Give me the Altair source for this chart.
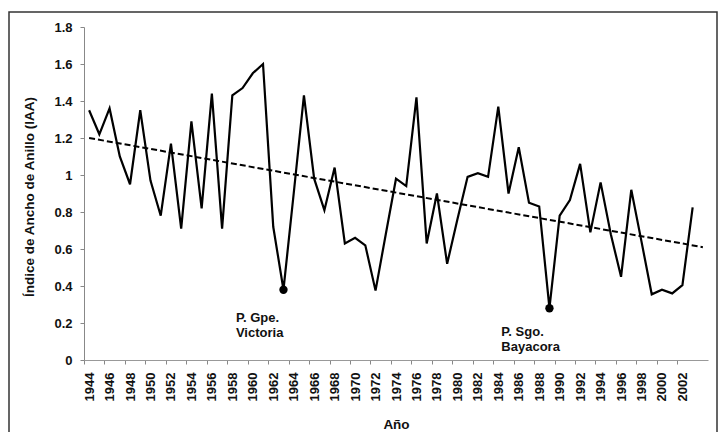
import altair as alt
import pandas as pd

# ---- data ----
years = list(range(1944, 2004))
iaa = [1.35, 1.22, 1.36, 1.10, 0.95, 1.35, 0.97, 0.78, 1.17, 0.71,
       1.29, 0.82, 1.44, 0.71, 1.43, 1.47, 1.55, 1.60, 0.72, 0.38,
       0.90, 1.43, 0.98, 0.81, 1.04, 0.63, 0.66, 0.62, 0.375, 0.68,
       0.98, 0.94, 1.42, 0.63, 0.90, 0.52, 0.76, 0.99, 1.01, 0.99,
       1.37, 0.90, 1.15, 0.85, 0.83, 0.28, 0.78, 0.865, 1.06, 0.69,
       0.96, 0.68, 0.45, 0.92, 0.64, 0.355, 0.38, 0.36, 0.405, 0.825]

trend_years = [1944, 2004]
trend_vals = [1.20, 0.61]

marked_years = [1963, 1989]

note_texts = [["P. Gpe.", "Victoria"], ["P. Sgo.", "Bayacora"]]
note_years = [1958.35, 1984.3]
note_vals = [0.262, 0.182]

x_label_years = list(range(1944, 2003, 2))
y_ticks = [0, 0.2, 0.4, 0.6, 0.8, 1.0, 1.2, 1.4, 1.6, 1.8]

FONT = "Liberation Sans"
# the whole framed figure is the view; the plotting region sits inside it
VW, VH = 708, 420
PL, PR = 75, 699        # plot left / right inside the view
PT, PB = 15, 348        # plot top / bottom inside the view
cat = (PR - PL) / 61.0

df = pd.DataFrame({"year": years, "iaa": iaa})
trend = pd.DataFrame({"year": trend_years, "iaa": trend_vals})
notes = pd.DataFrame({"year": note_years, "iaa": note_vals, "txt": note_texts})

xscale = alt.Scale(domain=[1943.5, 2004.5], range=[PL, PR], nice=False, zero=False)
yscale = alt.Scale(domain=[0, 1.8], range=[PB, PT], nice=False)

x_axis = alt.Axis(
    values=x_label_years, format="d", labelAngle=-90, labelOverlap=False,
    labelFlush=False, labelBound=False, tickOffset=-cat / 2, labelOffset=cat / 2,
    labelFont=FONT, labelFontSize=13, labelFontWeight="bold", labelColor="#111",
    labelPadding=8, tickSize=4, tickColor="#888", domainColor="#999",
    grid=False, offset=-(VH - PB),
    title="Año", titleFont=FONT, titleFontSize=13.5,
    titleFontWeight="bold", titleColor="#111", titleX=(PL + PR) / 2, titleY=64,
    titleBaseline="middle", titleAlign="center",
)
y_axis = alt.Axis(
    values=y_ticks, format="~g", labelOverlap=False, labelFlush=False,
    labelBound=False, labelFont=FONT, labelFontSize=13,
    labelFontWeight="bold", labelColor="#111", labelPadding=8, tickSize=4,
    tickColor="#888", domainColor="#888", grid=False, offset=-PL,
    title="Índice de Ancho de Anillo (IAA)", titleFont=FONT, titleFontSize=13.5,
    titleFontWeight="bold", titleColor="#111", titleAngle=-90, titleX=-55,
    titleY=(PT + PB) / 2 + 3, titleAlign="center", titleBaseline="middle",
)

X = alt.X("year:Q", scale=xscale, axis=x_axis)
Y = alt.Y("iaa:Q", scale=yscale, axis=y_axis)

base = alt.Chart(df)

line = base.mark_line(color="black", strokeWidth=2.2).encode(x=X, y=Y)

dots = base.mark_circle(color="black", opacity=1, size=70).encode(
    x=X, y=Y
).transform_filter(alt.FieldOneOfPredicate(field="year", oneOf=marked_years))

trend_line = alt.Chart(trend).mark_line(
    color="black", strokeWidth=2, strokeDash=[6, 3]
).encode(x=X, y=Y)

labels = alt.Chart(notes).mark_text(
    align="left", baseline="top", font=FONT, fontSize=13, fontWeight="bold",
    color="#111", lineHeight=15,
).encode(x=X, y=Y, text="txt")

chart = alt.layer(trend_line, line, dots, labels).properties(
    width=VW, height=VH, autosize="none",
    padding={"left": 1, "top": 4, "right": 1, "bottom": 0},
    background="white",
).configure_view(
    stroke="#333", strokeWidth=1.5, strokeDash=[VW + VH, VW, VH + 2, 2]
).configure_axis(labelOverlap=False, labelFlush=False)

chart.save("out.html", embed_options={"renderer": "svg", "actions": False})
